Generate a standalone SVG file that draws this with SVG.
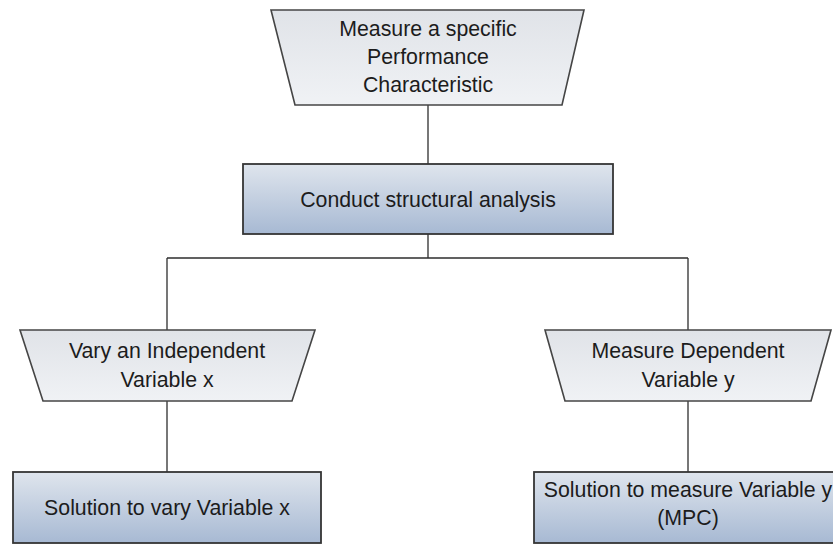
<svg xmlns="http://www.w3.org/2000/svg" width="833" height="545" viewBox="0 0 833 545">
  <defs>
    <linearGradient id="gradTrap" x1="0" y1="0" x2="0" y2="1">
      <stop offset="0" stop-color="#e0e3e8"/>
      <stop offset="1" stop-color="#f0f2f5"/>
    </linearGradient>
    <linearGradient id="gradBox" x1="0" y1="0" x2="0" y2="1">
      <stop offset="0" stop-color="#dfe5ed"/>
      <stop offset="1" stop-color="#a7b9d3"/>
    </linearGradient>
  </defs>
  <style>
    .trap { fill: url(#gradTrap); stroke: #454545; stroke-width: 1.6; stroke-linejoin: miter; }
    .box { fill: url(#gradBox); stroke: #353535; stroke-width: 1.8; }
    .conn { fill: none; stroke: #2e2e2e; stroke-width: 1.3; }
    .lbl { font-family: "Liberation Sans", Arial, sans-serif; font-size: 21.3px; fill: #1c1c1c; text-anchor: middle; }
  </style>
  <rect width="833" height="545" fill="#ffffff"/>

  <g id="connectors">
    <path class="conn" d="M428,105 V164"/>
    <path class="conn" d="M428,234 V258 M167,258 H688 M167,258 V330 M688,258 V330"/>
    <path class="conn" d="M167,401 V472"/>
    <path class="conn" d="M688,401 V472"/>
  </g>

  <g id="measure-characteristic">
    <polygon class="trap" points="271,10 584,10 562,105 295,105"/>
    <text class="lbl" x="428" y="36">Measure a specific</text>
    <text class="lbl" x="428" y="64">Performance</text>
    <text class="lbl" x="428" y="92">Characteristic</text>
  </g>

  <g id="structural-analysis">
    <rect class="box" x="243" y="164" width="370" height="70"/>
    <text class="lbl" x="428" y="207">Conduct structural analysis</text>
  </g>

  <g id="vary-independent">
    <polygon class="trap" points="20,330 315,330 292,401 43,401"/>
    <text class="lbl" x="167" y="358">Vary an Independent</text>
    <text class="lbl" x="167" y="387">Variable x</text>
  </g>

  <g id="measure-dependent">
    <polygon class="trap" points="545,330 831,330 811,401 565,401"/>
    <text class="lbl" x="688" y="358">Measure Dependent</text>
    <text class="lbl" x="688" y="387">Variable y</text>
  </g>

  <g id="solution-vary">
    <rect class="box" x="13" y="472" width="308" height="71"/>
    <text class="lbl" x="167" y="515">Solution to vary Variable x</text>
  </g>

  <g id="solution-measure">
    <rect class="box" x="534" y="472" width="308" height="71"/>
    <text class="lbl" x="688" y="497">Solution to measure Variable y</text>
    <text class="lbl" x="688" y="525">(MPC)</text>
  </g>
</svg>
